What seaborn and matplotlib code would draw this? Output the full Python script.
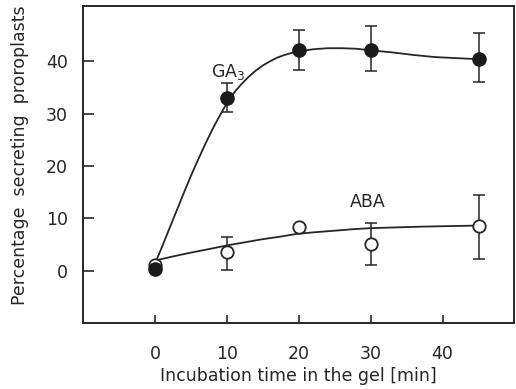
import matplotlib
matplotlib.use("Agg")
import matplotlib.pyplot as plt
import seaborn as sns
import pandas as pd

# measured points
time_min = [0, 10, 20, 30, 45]
ga3_mean = [0.3, 33.0, 42.2, 42.2, 40.4]
ga3_err_hi = [0.0, 2.9, 3.8, 4.6, 5.0]
ga3_err_lo = [0.0, 2.6, 3.8, 4.1, 4.4]
aba_mean = [1.0, 3.5, 8.4, 5.1, 8.5]
aba_err_hi = [0.0, 2.9, 0.0, 4.0, 5.9]
aba_err_lo = [0.0, 3.3, 0.0, 4.1, 6.3]

# fitted curves
ga3_curve_x = [0, 1, 2, 3, 4, 5, 6, 7, 8, 9, 10, 11, 12, 13, 14, 15, 16, 17, 18, 19, 20,
               22, 24, 26, 28, 30, 33, 36, 39, 42, 45]
ga3_curve_y = [1.3, 4.6, 8.0, 11.4, 14.8, 18.1, 21.2, 24.2, 27.0, 29.6, 32.0, 34.0, 35.6,
               37.0, 38.2, 39.2, 40.0, 40.7, 41.2, 41.6, 41.9,
               42.3, 42.5, 42.5, 42.4, 42.1, 41.7, 41.2, 40.8, 40.6, 40.4]
aba_curve_x = [0, 2.5, 4.9, 7.5, 10.0, 12.5, 15.0, 17.5, 19.7, 22.0, 24.8, 27.5, 29.9, 33.5,
               37.3, 41.0, 45.0]
aba_curve_y = [1.9, 2.7, 3.4, 4.1, 4.8, 5.4, 6.0, 6.5, 7.0, 7.3, 7.6, 7.9, 8.1, 8.25,
               8.4, 8.5, 8.6]

x_ticks = [0, 10, 20, 30, 40]
y_ticks = [0, 10, 20, 30, 40]

sns.set_theme(style="white")
plt.rcParams['font.family'] = ['DejaVu Sans']

fig = plt.figure(figsize=(5.16, 3.89), dpi=100)
ax = fig.add_axes([0.161, 0.170, 0.836, 0.815])

ink = "#262626"
ga3_curve = pd.DataFrame({"t": ga3_curve_x, "v": ga3_curve_y})
aba_curve = pd.DataFrame({"t": aba_curve_x, "v": aba_curve_y})
sns.lineplot(data=ga3_curve, x="t", y="v", ax=ax, color=ink, lw=1.3, sort=True)
sns.lineplot(data=aba_curve, x="t", y="v", ax=ax, color=ink, lw=1.3, sort=True)

ax.errorbar(time_min, ga3_mean, yerr=[ga3_err_lo, ga3_err_hi], fmt="none",
            ecolor=ink, elinewidth=1.1, capsize=4, capthick=1.1, zorder=3)
ax.errorbar(time_min, aba_mean, yerr=[aba_err_lo, aba_err_hi], fmt="none",
            ecolor=ink, elinewidth=1.1, capsize=4, capthick=1.1, zorder=3)

pts = pd.DataFrame({"t": time_min, "ga3": ga3_mean, "aba": aba_mean})
sns.scatterplot(data=pts, x="t", y="aba", ax=ax, s=80, color="white",
                edgecolor=ink, linewidth=1.3, zorder=4)
sns.scatterplot(data=pts, x="t", y="ga3", ax=ax, s=90, color="#1a1a1a",
                edgecolor="#1a1a1a", linewidth=1.0, zorder=5)

fs = 12.5
ax.text(10.2, 38.0, r"GA$_3$", ha="center", va="center", fontsize=fs, color=ink)
ax.text(29.6, 13.1, "ABA", ha="center", va="center", fontsize=fs, color=ink)

ax.set_xlim(-10, 50)
ax.set_ylim(-10, 50.6)
ax.set_xticks(x_ticks)
ax.set_yticks(y_ticks)
ax.set_xticklabels([str(v) for v in x_ticks])
ax.set_yticklabels([str(v) for v in y_ticks])
ax.tick_params(axis="x", direction="in", length=6, width=1.2, pad=16, labelsize=fs,
               colors=ink, bottom=True)
ax.tick_params(axis="y", direction="in", length=8, width=1.2, pad=11, labelsize=fs,
               colors=ink, left=True)
ax.set_xlabel("Incubation time in the gel [min]", fontsize=fs, color=ink, labelpad=3)
ax.set_ylabel("Percentage  secreting  proroplasts", fontsize=fs, color=ink)
ax.yaxis.set_label_coords(-0.125, 0.53)

for s in ax.spines.values():
    s.set_visible(True)
    s.set_color(ink)
    s.set_linewidth(1.4)

fig.savefig("out.png", dpi=100)
